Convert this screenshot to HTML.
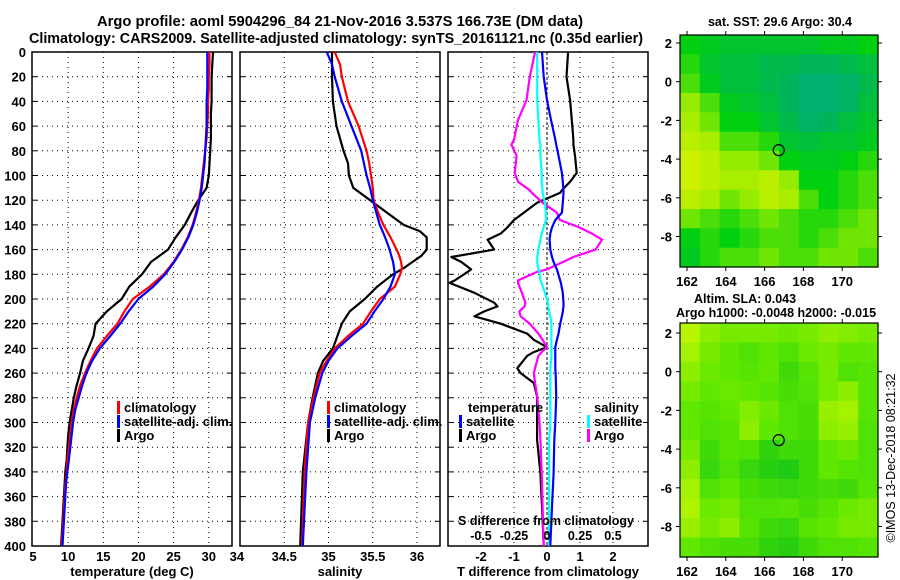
<!DOCTYPE html>
<html><head><meta charset="utf-8">
<style>
html,body{margin:0;padding:0;background:#fff;}
svg{display:block;font-family:"Liberation Sans",sans-serif;font-weight:bold;}
</style></head>
<body>
<svg id="chart" width="900" height="580" viewBox="0 0 900 580" xmlns="http://www.w3.org/2000/svg">
<text x="340" y="26" font-size="14.5" text-anchor="middle" textLength="486" lengthAdjust="spacingAndGlyphs">Argo profile: aoml 5904296_84 21-Nov-2016 3.537S 166.73E (DM data)</text>
<text x="336" y="43" font-size="14.5" text-anchor="middle" textLength="614" lengthAdjust="spacingAndGlyphs">Climatology: CARS2009. Satellite-adjusted climatology: synTS_20161121.nc (0.35d earlier)</text>
<g id="layer"></g>
</svg>
<script>
// ---------- data ----------
const tDepths = [0,10,20,30,40,50,60,70,80,90,100,110,120,130,140,150,160,170,180,190,200,210,220,230,240,250,260,270,280,290,300,310,320,330,340,350,360,370,380,390,400];
const tempClim = [30.1,30.1,30.0,30.0,29.9,29.9,29.8,29.7,29.5,29.3,29.1,28.9,28.6,28.2,27.7,27.0,26.1,25.0,23.6,21.6,19.2,18.0,17.0,15.5,14.1,13.2,12.4,11.7,11.2,10.8,10.5,10.3,10.1,9.9,9.8,9.6,9.5,9.4,9.3,9.2,9.1];
const tempSat = [29.8,29.8,29.8,29.8,29.7,29.7,29.7,29.6,29.5,29.4,29.2,29.0,28.7,28.3,27.8,27.1,26.2,25.1,23.8,22.1,20.0,18.6,17.4,16.0,14.5,13.4,12.6,12.0,11.5,11.0,10.7,10.5,10.3,10.1,9.9,9.7,9.6,9.5,9.4,9.3,9.2];
const tempArgo = [30.6,30.5,30.4,30.4,30.4,30.3,30.3,30.3,30.2,30.1,30.0,29.7,28.5,27.5,26.6,25.3,24.2,21.8,20.5,18.7,17.6,15.5,13.9,13.6,12.9,12.1,11.7,11.2,10.8,10.5,10.2,10.0,9.9,9.8,9.6,9.5,9.4,9.3,9.2,9.1,9.0];

const sDepths = [0,10,20,40,60,80,90,100,110,120,130,140,145,150,160,165,170,175,180,190,200,210,220,230,240,250,260,280,300,340,400];
const salClim = [35.07,35.13,35.15,35.22,35.34,35.43,35.46,35.48,35.50,35.51,35.56,35.62,35.66,35.70,35.77,35.80,35.82,35.83,35.81,35.75,35.58,35.48,35.39,35.22,35.07,34.98,34.90,34.83,34.77,34.73,34.70];
const salSat = [34.98,35.04,35.07,35.15,35.26,35.37,35.40,35.43,35.47,35.50,35.54,35.58,35.61,35.64,35.69,35.71,35.73,35.74,35.75,35.70,35.62,35.52,35.43,35.26,35.10,35.00,34.93,34.85,34.79,34.75,34.71];
const salArgo = [35.04,35.04,35.04,35.05,35.09,35.17,35.22,35.23,35.28,35.47,35.66,35.85,36.03,36.11,36.11,36.05,35.95,35.85,35.73,35.55,35.41,35.24,35.15,35.10,35.05,34.94,34.88,34.82,34.77,34.71,34.68];

const dDepths = [0,20,39,55,71,75,84,98,105,112,114,122,130,136,142,147,152,160,166,170,176,178,185,187,195,203,206,210,214,220,228,233,239,243,246,256,260,268,279,300,314,341,368,400];
const dTArgo = [0.64,0.59,0.7,0.75,0.8,0.8,0.85,0.9,0.7,0.45,0.4,-0.3,-0.7,-1.0,-1.2,-1.4,-1.8,-1.6,-2.9,-2.6,-2.3,-2.4,-2.8,-2.95,-2.2,-1.6,-1.5,-1.9,-2.2,-1.4,-0.6,-0.4,0.0,-0.4,-0.6,-0.9,-0.8,-0.4,-0.3,-0.3,-0.3,-0.2,-0.15,-0.1];
const dTSat = [-0.15,-0.1,0.0,0.12,0.25,0.28,0.35,0.45,0.48,0.5,0.5,0.48,0.45,0.25,0.15,0.1,0.08,0.1,0.15,0.2,0.3,0.32,0.4,0.42,0.48,0.5,0.5,0.48,0.45,0.4,0.35,0.3,0.25,0.25,0.25,0.25,0.26,0.27,0.28,0.25,0.22,0.2,0.15,0.1];
const dSArgo = [-0.09,-0.13,-0.155,-0.22,-0.25,-0.27,-0.23,-0.245,-0.22,-0.13,-0.115,-0.033,0.074,0.098,0.245,0.34,0.417,0.368,0.2,0.123,0.0,-0.074,-0.22,-0.22,-0.19,-0.164,-0.17,-0.21,-0.2,-0.13,-0.065,-0.033,0.0,-0.04,-0.065,-0.09,-0.1,-0.09,-0.074,-0.057,-0.05,-0.04,-0.033,-0.025];
const dSSat = [-0.074,-0.074,-0.074,-0.065,-0.057,-0.05,-0.05,-0.04,-0.04,-0.033,-0.033,-0.016,-0.008,-0.008,-0.025,-0.04,-0.05,-0.065,-0.074,-0.074,-0.065,-0.057,-0.05,-0.04,-0.016,0.008,0.008,0.016,0.025,0.033,0.033,0.033,0.033,0.033,0.033,0.025,0.025,0.025,0.025,0.025,0.016,0.016,0.016,0.016];

const depthTicks = [0,20,40,60,80,100,120,140,160,180,200,220,240,260,280,300,320,340,360,380,400];
const tempTicks = [5,10,15,20,25,30,34];
const salTicks = [34.5,35,35.5,36];
const dTTicks = [-2,-1,0,1,2];
const dSTicks = ["-0.5","-0.25","0","0.25","0.5"];

const lonTicks = [162,164,166,168,170];
const latTicks = [2,0,-2,-4,-6,-8];
const argoLon = 166.73, argoLat = -3.537;
const sstGrid = [
[0.5,0.45,0.4,0.4,0.4,0.4,0.4,0.45,0.45,0.5],
[0.55,0.4,0.35,0.35,0.3,0.3,0.25,0.25,0.3,0.35],
[0.6,0.45,0.35,0.35,0.3,0.25,0.15,0.15,0.2,0.3],
[0.7,0.6,0.45,0.4,0.35,0.25,0.15,0.15,0.2,0.35],
[0.75,0.65,0.5,0.5,0.4,0.3,0.2,0.25,0.35,0.4],
[0.8,0.75,0.6,0.6,0.55,0.4,0.35,0.4,0.4,0.45],
[0.85,0.8,0.7,0.7,0.65,0.5,0.45,0.45,0.5,0.55],
[0.85,0.8,0.75,0.75,0.8,0.7,0.5,0.5,0.55,0.6],
[0.8,0.75,0.65,0.7,0.8,0.75,0.6,0.5,0.55,0.6],
[0.65,0.6,0.55,0.6,0.65,0.6,0.55,0.55,0.6,0.65],
[0.5,0.55,0.5,0.55,0.6,0.6,0.55,0.6,0.65,0.65],
[0.45,0.55,0.6,0.6,0.65,0.6,0.6,0.65,0.65,0.6]];
const slaGrid = [
[0.9,0.7,0.6,0.6,0.6,0.55,0.6,0.7,0.65,0.6],
[0.8,0.6,0.5,0.4,0.5,0.4,0.55,0.6,0.5,0.5],
[0.7,0.55,0.5,0.45,0.5,0.3,0.45,0.6,0.4,0.45],
[0.6,0.5,0.55,0.5,0.45,0.35,0.4,0.6,0.7,0.45],
[0.5,0.45,0.5,0.65,0.55,0.4,0.35,0.75,0.8,0.45],
[0.5,0.4,0.45,0.7,0.5,0.4,0.35,0.7,0.75,0.4],
[0.6,0.3,0.45,0.4,0.2,0.3,0.3,0.5,0.55,0.4],
[0.7,0.25,0.4,0.25,0.15,0.1,0.3,0.5,0.45,0.4],
[0.8,0.4,0.5,0.35,0.3,0.25,0.3,0.35,0.3,0.45],
[0.85,0.55,0.6,0.4,0.4,0.45,0.35,0.45,0.55,0.6],
[0.75,0.6,0.7,0.45,0.3,0.25,0.45,0.5,0.6,0.6],
[0.5,0.4,0.35,0.35,0.2,0.15,0.3,0.4,0.4,0.45]];

// ---------- drawing ----------
const NS='http://www.w3.org/2000/svg';
const L=document.getElementById('layer');
function mk(tag,attrs,parent){const e=document.createElementNS(NS,tag);for(const k in attrs)e.setAttribute(k,attrs[k]);(parent||L).appendChild(e);return e;}
const TOP=52,BOT=546;
const yD=d=>TOP+(d/400)*(BOT-TOP);
const panels=[
 {x0:32,x1:232,fx:v=>33+(v-5)*7.03,ticks:tempTicks,name:'temperature-panel'},
 {x0:240,x1:440,fx:v=>240+(v-34)*88.5,ticks:salTicks,name:'salinity-panel'},
 {x0:448,x1:648,fx:v=>547+v*33,ticks:dTTicks,name:'difference-panel'}];

panels.forEach((p,pi)=>{
  const g=mk('g',{});
  
  
  depthTicks.forEach(d=>{
    const y=yD(d);
    if(d>0&&d<400){const gl=mk('line',{x1:p.x0,x2:p.x1,y1:y,y2:y,stroke:'#000','stroke-width':1,'stroke-dasharray':'1,4'},g);
      }
    mk('line',{x1:p.x0,x2:p.x0+5,y1:y,y2:y,stroke:'#000'},g);
    mk('line',{x1:p.x1-5,x2:p.x1,y1:y,y2:y,stroke:'#000'},g);
    if(pi===0){const t=mk('text',{x:p.x0-6,y:y+5,'font-size':13,'text-anchor':'end'},g);t.textContent=d;
      }
  });
  p.ticks.forEach(v=>{
    const x=p.fx(v);
    if(x>p.x0+2&&x<p.x1-2){const gl=mk('line',{x1:x,x2:x,y1:TOP,y2:BOT,stroke:'#000','stroke-dasharray':'1,4'},g);
      }
    const t=mk('text',{x:x,y:561,'font-size':13,'text-anchor':'middle'},g);t.textContent=v;
    
  });
  const fr=mk('rect',{x:p.x0,y:TOP,width:p.x1-p.x0,height:BOT-TOP,fill:'none',stroke:'#000','stroke-width':1.5},g);
  
});

const zl=mk('line',{x1:547,x2:547,y1:TOP,y2:BOT,stroke:'#000','stroke-dasharray':'3,2'});


function series(depths,vals,fx,color,name,w){
  const pts=depths.map((d,i)=>fx(vals[i]).toFixed(1)+','+yD(d).toFixed(1)).join(' ');
  const pl=mk('polyline',{points:pts,fill:'none',stroke:color,'stroke-width':w||2.2,'stroke-linejoin':'round'});
  
}
const fT=panels[0].fx,fS=panels[1].fx,fdT=panels[2].fx,fdS=v=>547+v*132;
series(tDepths,tempArgo,fT,'#000','temp-argo-line');
series(tDepths,tempClim,fT,'#f00','temp-climatology-line');
series(tDepths,tempSat,fT,'#00f','temp-satellite-line');
series(sDepths,salArgo,fS,'#000','sal-argo-line');
series(sDepths,salClim,fS,'#f00','sal-climatology-line');
series(sDepths,salSat,fS,'#00f','sal-satellite-line');
series(dDepths,dTArgo,fdT,'#000','dT-argo-line');
series(dDepths,dSArgo,fdS,'#f0f','dS-argo-line');
series(dDepths,dSSat,fdS,'#0ff','dS-satellite-line');
series(dDepths,dTSat,fdT,'#00f','dT-satellite-line');

const sl=mk('text',{x:546,y:525,'font-size':12.5,'text-anchor':'middle',textLength:176,lengthAdjust:'spacingAndGlyphs'});sl.textContent='S difference from climatology';

dSTicks.forEach(v=>{const t=mk('text',{x:fdS(parseFloat(v)),y:540,'font-size':12.5,'text-anchor':'middle'});t.textContent=v;
  });

[['temperature (deg C)',132,'temperature-axis-title'],['salinity',340,'salinity-axis-title'],['T difference from climatology',548,'t-diff-axis-title']].forEach(a=>{
  const t=mk('text',{x:a[1],y:576,'font-size':13,'text-anchor':'middle'});t.textContent=a[0];
  });

function legEntry(x,y,color,label,name){
  const g=mk('g',{});
  if(color)mk('rect',{x:x,y:y-10,width:3,height:13,fill:color},g);
  const t=mk('text',{x:x+7,y:y+1,'font-size':13},g);t.textContent=label;
}
legEntry(117,411,'#f00','climatology','legend-temp-climatology');
legEntry(117,425,'#00f','satellite-adj. clim.','legend-temp-satellite');
legEntry(117,439,'#000','Argo','legend-temp-argo');
legEntry(327,411,'#f00','climatology','legend-sal-climatology');
legEntry(327,425,'#00f','satellite-adj. clim.','legend-sal-satellite');
legEntry(327,439,'#000','Argo','legend-sal-argo');
legEntry(461,411,null,'temperature','legend-diff-temperature-heading');
legEntry(459,425,'#00f','satellite','legend-diff-temp-satellite');
legEntry(459,439,'#000','Argo','legend-diff-temp-argo');
legEntry(587,411,null,'salinity','legend-diff-salinity-heading');
legEntry(587,425,'#0ff','satellite','legend-diff-sal-satellite');
legEntry(587,439,'#f0f','Argo','legend-diff-sal-argo');

function lerpC(stops,v){
  v=Math.max(0,Math.min(1,v));
  for(let i=0;i<stops.length-1;i++){const a=stops[i],b=stops[i+1];
    if(v<=b[0]){const t=(v-a[0])/(b[0]-a[0]);return 'rgb('+[1,2,3].map(k=>Math.round(a[k]+(b[k]-a[k])*t)).join(',')+')';}}
  const s=stops[stops.length-1];return 'rgb('+s[1]+','+s[2]+','+s[3]+')';
}
const sstStops=[[0,0,176,150],[0.25,0,180,90],[0.5,0,208,16],[0.7,150,236,0],[0.9,224,242,0],[1,235,240,0]];
const slaStops=[[0,16,196,24],[0.5,96,232,0],[1,208,248,0]];
function drawMap(x0,x1,y0,y1,lat2y,grid,stops,name){
  const g=mk('g',{});
  const fx=lon=>687+(lon-162)*19.4;
  const fy=lat=>lat2y-(lat-2)*19.35;
  const rows=grid.length,cols=grid[0].length;
  const cw=(x1-x0)/cols,ch=(y1-y0)/rows;
  grid.forEach((row,r)=>row.forEach((v,c)=>{
    const cell=mk('rect',{x:(x0+c*cw).toFixed(1),y:(y0+r*ch).toFixed(1),width:(cw+0.6).toFixed(1),height:(ch+0.6).toFixed(1),fill:lerpC(stops,v)},g);
    
  }));
  mk('rect',{x:x0,y:y0,width:x1-x0,height:y1-y0,fill:'none',stroke:'#000','stroke-width':1.2},g);
  lonTicks.forEach(l=>{const x=fx(l);mk('line',{x1:x,x2:x,y1:y0-4,y2:y0,stroke:'#000'},g);mk('line',{x1:x,x2:x,y1:y1,y2:y1+4,stroke:'#000'},g);
    const t=mk('text',{x:x,y:y1+19,'font-size':13,'text-anchor':'middle'},g);t.textContent=l;
    });
  latTicks.forEach(l=>{const y=fy(l);mk('line',{x1:x0-4,x2:x0,y1:y,y2:y,stroke:'#000'},g);mk('line',{x1:x1,x2:x1+4,y1:y,y2:y,stroke:'#000'},g);
    const t=mk('text',{x:x0-8,y:y+5,'font-size':13,'text-anchor':'end'},g);t.textContent=l;
    });
  const c=mk('circle',{cx:fx(argoLon),cy:fy(argoLat),r:5.5,fill:'none',stroke:'#000','stroke-width':1.2},g);
  
}
drawMap(680,878,35,267,43,sstGrid,sstStops,'sst-map');
drawMap(680,878,323,557,333,slaGrid,slaStops,'sla-map');

[['sat. SST: 29.6 Argo: 30.4',780,26,'sst-map-title'],['Altim. SLA: 0.043',745,303,'sla-map-title'],['Argo h1000: -0.0048 h2000: -0.015',776,317,'argo-height-subtitle']].forEach(a=>{
  const t=mk('text',{x:a[1],y:a[2],'font-size':12.5,'text-anchor':'middle'});t.textContent=a[0];
  });
const cr=mk('text',{x:0,y:0,'font-size':12.5,'font-weight':'normal','text-anchor':'middle',transform:'translate(895,458) rotate(-90)'});
cr.textContent='©IMOS 13-Dec-2018 08:21:32';

</script>
</body></html>
